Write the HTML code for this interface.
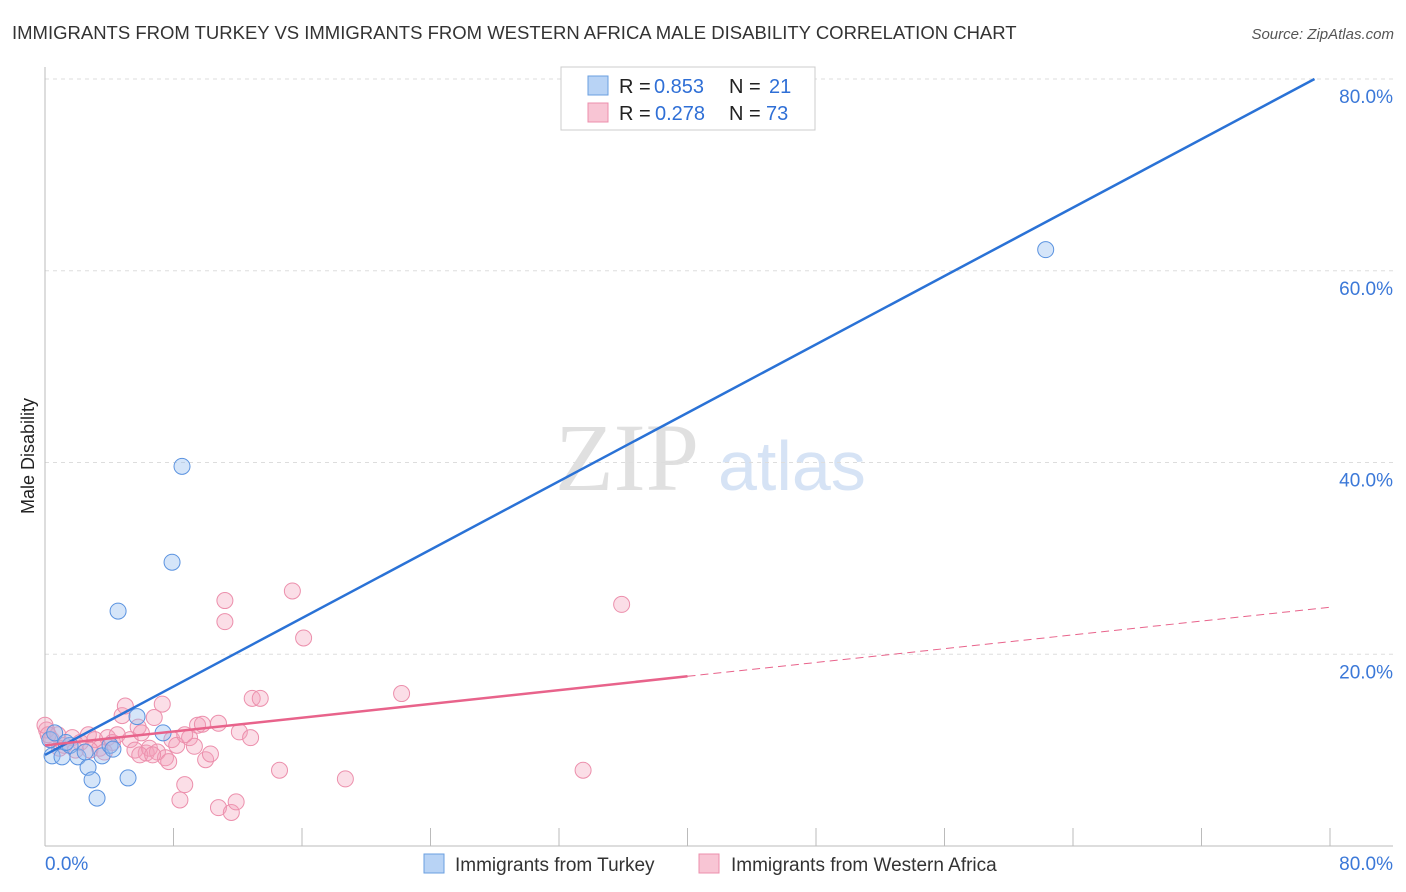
<!DOCTYPE html>
<html><head><meta charset="utf-8"><style>
body{margin:0;background:#fff;font-family:"Liberation Sans",sans-serif;}
#wrap{position:relative;width:1406px;height:892px;overflow:hidden}
</style></head><body>
<div id="wrap">
<svg id="svg" width="1406" height="892" xmlns="http://www.w3.org/2000/svg">
<text x="12" y="39" font-size="18.5" fill="#333">IMMIGRANTS FROM TURKEY VS IMMIGRANTS FROM WESTERN AFRICA MALE DISABILITY CORRELATION CHART</text>
<text x="1394" y="39" font-size="15" font-style="italic" fill="#555" text-anchor="end">Source: ZipAtlas.com</text>
<text x="34" y="456" font-size="18" fill="#222" text-anchor="middle" transform="rotate(-90 34 456)">Male Disability</text>
<text x="555" y="490" font-size="96" fill="#e0e0e0" font-family="Liberation Serif,serif">ZIP</text>
<text x="718" y="490" font-size="70" fill="#d6e3f5">atlas</text>
<g id="grid"></g><g id="marks"></g>
<g>
<rect x="561" y="67" width="254" height="63" fill="#fff" stroke="#ccc"/>
<rect x="588" y="76" width="20" height="19" fill="#b8d3f5" stroke="#6a9fe0"/>
<rect x="588" y="103" width="20" height="19" fill="#f8c5d4" stroke="#ec8fac"/>
<text x="619" y="93" font-size="20" fill="#222">R =</text>
<text x="654" y="93" font-size="20" fill="#2f6fd6">0.853</text>
<text x="729" y="93" font-size="20" fill="#222">N =</text>
<text x="769" y="93" font-size="20" fill="#2f6fd6">21</text>
<text x="619" y="120" font-size="20" fill="#222">R =</text>
<text x="655" y="120" font-size="20" fill="#2f6fd6">0.278</text>
<text x="729" y="120" font-size="20" fill="#222">N =</text>
<text x="766" y="120" font-size="20" fill="#2f6fd6">73</text>
</g>
<g>
<rect x="424" y="854" width="20" height="19" fill="#b8d3f5" stroke="#6a9fe0"/>
<text x="455" y="871" font-size="19" fill="#333">Immigrants from Turkey</text>
<rect x="699" y="854" width="20" height="19" fill="#f8c5d4" stroke="#ec8fac"/>
<text x="731" y="871" font-size="19" fill="#333">Immigrants from Western Africa</text>
</g>
</svg></div>
<script>
const yTicks=[20,40,60,80];
const xTickLabels=["0.0%","80.0%"];
const turkeyX=[0.44,1.06,1.56,2.05,2.68,2.93,3.24,3.55,4.05,4.23,4.55,5.17,5.73,7.35,7.91,8.53,62.3,0.3,0.6,1.3,2.5];
const turkeyY=[9.4,9.3,10.5,9.3,8.2,6.9,5.0,9.4,10.5,10.1,24.5,7.1,13.5,11.8,29.6,39.6,62.2,11.1,11.8,10.8,9.8];
const wafX=[0.1,0.4,0.8,1.2,1.7,2.2,2.7,3.1,3.4,3.9,4.2,4.5,4.8,5.0,5.3,5.6,5.8,6.0,6.3,6.5,6.8,7.0,7.3,7.5,7.7,7.9,8.2,8.4,8.7,9.0,9.3,9.5,9.8,10.0,10.3,10.8,10.8,11.2,11.2,11.6,11.9,12.1,12.8,12.9,13.4,14.6,15.4,16.1,18.7,22.2,33.5,35.9,2.8,0.9,1.9,3.7,5.9,6.7,8.7,0,0.2];
const wafY=[12.1,11.1,11.6,10.5,11.3,10.8,11.6,11.1,10.2,11.3,10.8,11.6,13.6,14.6,11.1,10.0,12.4,11.8,9.7,10.2,13.4,9.8,14.8,9.2,8.8,11.1,10.5,4.8,6.4,11.3,10.4,12.6,12.7,9.0,9.6,12.8,4.0,25.6,23.4,3.5,4.6,11.9,11.3,15.4,15.4,7.9,26.6,21.7,7.0,15.9,7.9,25.2,10.0,10.2,10.0,9.8,9.5,9.5,11.6,12.6,11.6];
const turkeyFit=[9.5,0.892];
const wafFit=[10.5,0.18];
const X=v=>45+v*(1285/80), Y=v=>846-v*(767/80);
const NS="http://www.w3.org/2000/svg";
function mk(tag,a,parent){const e=document.createElementNS(NS,tag);for(const k in a)e.setAttribute(k,a[k]);parent.appendChild(e);return e;}
const g=document.getElementById('grid'),m=document.getElementById('marks');
yTicks.forEach(t=>{
 const l=mk('line',{x1:45,x2:1393,y1:Y(t),y2:Y(t),stroke:'#ddd','stroke-dasharray':'4,4'},g);
 
 
 const tx=mk('text',{x:1393,y:Y(t)+24,'font-size':19,fill:'#3b78d8','text-anchor':'end'},g);tx.textContent=t.toFixed(1)+'%';
 
 
});
let ax=mk('line',{x1:45,x2:45,y1:67,y2:846,stroke:'#bbb'},g);


ax=mk('line',{x1:45,x2:1393,y1:846,y2:846,stroke:'#bbb'},g);


for(let i=0;i<=10;i++){const t=mk('line',{x1:X(i*8),x2:X(i*8),y1:828,y2:846,stroke:'#bbb'},g);
 
 }
[[45,'start',0],[1393,'end',1]].forEach(([x,a,i])=>{const t=mk('text',{x:x,y:870,'font-size':19,fill:'#3b78d8','text-anchor':a},g);t.textContent=xTickLabels[i];
 
 });
wafX.forEach((x,i)=>{const c=mk('circle',{cx:X(x),cy:Y(wafY[i]),r:8,fill:'rgba(244,160,185,0.35)',stroke:'#ec8fac','stroke-width':1},m);
 
 });
turkeyX.forEach((x,i)=>{const c=mk('circle',{cx:X(x),cy:Y(turkeyY[i]),r:8,fill:'rgba(150,190,240,0.4)',stroke:'#5b93e0','stroke-width':1},m);
 
 });
let xe=(80-turkeyFit[0])/turkeyFit[1];
let l=mk('line',{x1:X(0),y1:Y(turkeyFit[0]),x2:X(xe),y2:Y(80),stroke:'#2a72d6','stroke-width':2.5},m);


l=mk('line',{x1:X(0),y1:Y(wafFit[0]),x2:X(40),y2:Y(wafFit[0]+40*wafFit[1]),stroke:'#e8638b','stroke-width':2.5},m);


l=mk('line',{x1:X(40),y1:Y(wafFit[0]+40*wafFit[1]),x2:X(80),y2:Y(wafFit[0]+80*wafFit[1]),stroke:'#e8638b','stroke-width':1,'stroke-dasharray':'8,5'},m);


</script>
</body></html>
